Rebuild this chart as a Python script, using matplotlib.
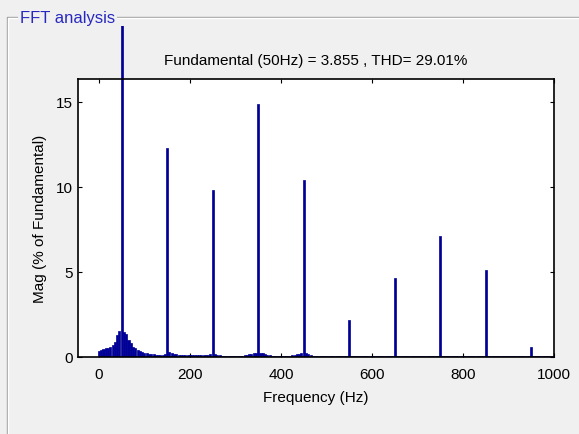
import numpy as np
import matplotlib
matplotlib.use('Agg')
import matplotlib.pyplot as plt
from matplotlib.lines import Line2D
from matplotlib.transforms import Bbox, TransformedBbox

# --- data: FFT bins (5 Hz resolution), magnitude in % of fundamental
freq_hz = np.arange(0, 1001, 5)
mag_pct = [
    # 0-95 Hz
    0.37, 0.40, 0.45, 0.50, 0.55, 0.60, 0.70, 0.90, 1.30, 1.55,
    100.0, 1.45, 1.35, 1.00, 0.85, 0.60, 0.50, 0.40, 0.35, 0.30,
    # 100-195 Hz
    0.25, 0.22, 0.20, 0.18, 0.15, 0.13, 0.12, 0.10, 0.10, 0.15,
    12.3, 0.30, 0.25, 0.15, 0.15, 0.12, 0.12, 0.12, 0.12, 0.12,
    # 200-295 Hz
    0.12, 0.12, 0.12, 0.12, 0.12, 0.10, 0.10, 0.10, 0.12, 0.15,
    9.85, 0.15, 0.12, 0.10, 0.08, 0.08, 0.08, 0.08, 0.08, 0.08,
    # 300-395 Hz
    0.08, 0.08, 0.08, 0.08, 0.10, 0.12, 0.15, 0.18, 0.22, 0.25,
    14.9, 0.25, 0.22, 0.18, 0.14, 0.10, 0.08, 0.06, 0.06, 0.06,
    # 400-495 Hz
    0.06, 0.06, 0.06, 0.06, 0.08, 0.10, 0.14, 0.18, 0.20, 0.22,
    10.4, 0.22, 0.18, 0.14, 0.08, 0.06, 0.05, 0.05, 0.05, 0.05,
    # 500-595 Hz
    0.05, 0.05, 0.05, 0.05, 0.05, 0.05, 0.05, 0.05, 0.05, 0.05,
    2.15, 0.05, 0.05, 0.05, 0.05, 0.05, 0.05, 0.05, 0.05, 0.05,
    # 600-695 Hz
    0.05, 0.05, 0.05, 0.05, 0.05, 0.05, 0.05, 0.05, 0.06, 0.08,
    4.65, 0.08, 0.06, 0.05, 0.05, 0.05, 0.05, 0.05, 0.05, 0.05,
    # 700-795 Hz
    0.05, 0.05, 0.05, 0.05, 0.05, 0.05, 0.05, 0.05, 0.06, 0.08,
    7.10, 0.08, 0.06, 0.05, 0.05, 0.05, 0.05, 0.05, 0.05, 0.05,
    # 800-895 Hz
    0.05, 0.05, 0.05, 0.05, 0.05, 0.05, 0.05, 0.05, 0.06, 0.08,
    5.10, 0.08, 0.06, 0.05, 0.05, 0.05, 0.05, 0.05, 0.05, 0.05,
    # 900-995 Hz
    0.05, 0.05, 0.05, 0.05, 0.05, 0.05, 0.05, 0.05, 0.05, 0.05,
    0.60, 0.05, 0.05, 0.05, 0.05, 0.05, 0.05, 0.05, 0.05, 0.05,
    # 1000 Hz
    0.05,
]
fundamental_hz = 50
fundamental_mag = 3.855
thd_pct = 29.01

x_ticks = [0, 200, 400, 600, 800, 1000]
y_ticks = [0, 5, 10, 15]

# --- figure setup (MATLAB powergui look)
plt.rcParams['font.family'] = ['Liberation Sans', 'DejaVu Sans']
W, H = 579, 435
bg = '#f0f0f0'
fig = plt.figure(figsize=(W / 100, H / 100), dpi=100, facecolor=bg)

def px(x, y):
    return x / W, 1 - y / H

# panel border with etched look
for off, col in [(0, '#a0a0a0'), (1, '#ffffff')]:
    xs = [px(7 + off, 0)[0], px(7 + off, 0)[0], 1.0]
    ys = [0.0, px(0, 18 + off)[1], px(0, 18 + off)[1]]
    fig.add_artist(Line2D(xs, ys, color=col, lw=1, transform=fig.transFigure))

fig.text(*px(20, 18), 'FFT analysis', color='#2828c0', fontsize=12,
         ha='left', va='center',
         bbox=dict(facecolor=bg, edgecolor='none', pad=1.5))

# axes
l, t = px(78, 80)
r, b = px(554, 358)
ax = fig.add_axes([l, b, r - l, t - b])
ax.set_facecolor('white')

bar_color = '#000096'
bars = ax.bar(freq_hz, mag_pct, width=4.5, color=bar_color,
              edgecolor=bar_color, linewidth=0.5, zorder=2)

# fundamental bar runs past the top of the axes and stops just under the panel line
clip = TransformedBbox(Bbox.from_extents(0, b, 1, px(0, 27)[1]), fig.transFigure)
for rect, f in zip(bars, freq_hz):
    if f == fundamental_hz:
        rect.set_clip_on(True)
        rect.set_clip_box(clip)

ax.set_xlim(-46, 1000)
ax.set_ylim(0, 16.35)
ax.set_xticks(x_ticks)
ax.set_yticks(y_ticks)
ax.tick_params(direction='in', length=3, width=0.8, top=True, right=True,
               labelsize=11, colors='black')
ax.tick_params(axis='x', pad=7)
ax.tick_params(axis='y', pad=4)
for s in ax.spines.values():
    s.set_linewidth(1.2)
    s.set_color('black')

ax.set_xlabel('Frequency (Hz)', fontsize=11)
ax.set_ylabel('Mag (% of Fundamental)', fontsize=11)
ax.xaxis.set_label_coords(0.5, -0.12)
ax.yaxis.set_label_coords(-0.066, 0.5)

fig.text(*px(316, 61),
         f'Fundamental ({fundamental_hz}Hz) = {fundamental_mag} , THD= {thd_pct:.2f}%',
         fontsize=11, ha='center', va='center')

fig.savefig('out.png', dpi=100, facecolor=bg)
